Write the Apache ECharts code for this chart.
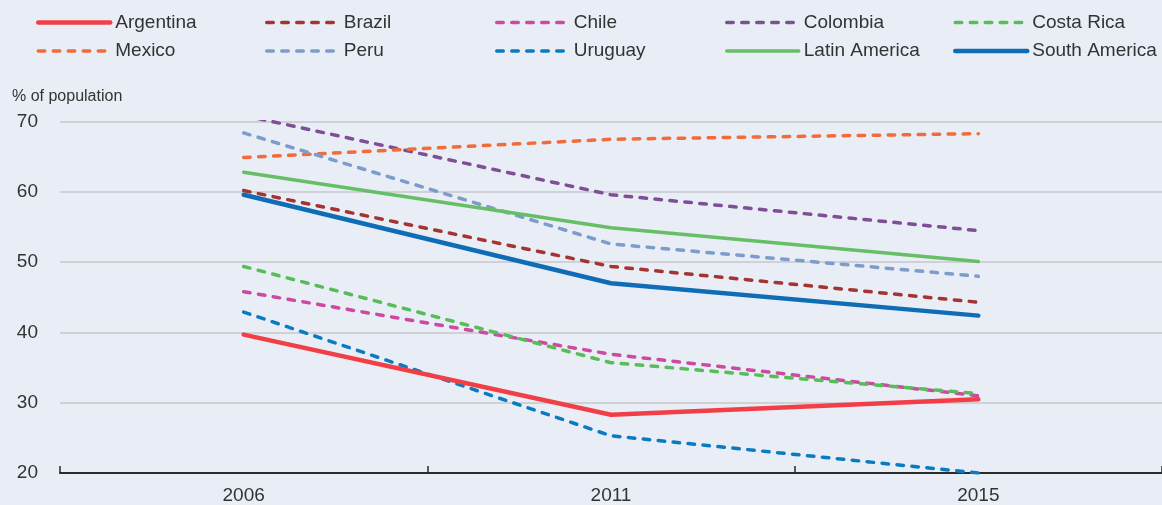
<!DOCTYPE html>
<html>
<head>
<meta charset="utf-8">
<script src="https://cdn.jsdelivr.net/npm/echarts@6/dist/echarts.min.js"></script>
<style>
  html, body { margin: 0; padding: 0; background: #e9edf6; }
  #chart { width: 1162px; height: 505px; }
</style>
</head>
<body>
<div id="chart"></div>
<script>
// Share of population (%), by country and region
const years = ['2006', '2011', '2015'];
const yTicks = [20, 30, 40, 50, 60, 70];

const argentina    = [39.7, 28.3, 30.5];
const brazil       = [60.2, 49.4, 44.3];
const chile        = [45.8, 36.9, 31.0];
const colombia     = [70.9, 59.6, 54.5];
const costaRica    = [49.4, 35.7, 31.3];
const mexico       = [64.9, 67.5, 68.3];
const peru         = [68.4, 52.6, 48.0];
const uruguay      = [42.9, 25.3, 20.0];
const latinAmerica = [62.8, 54.9, 50.1];
const southAmerica = [59.6, 47.0, 42.4];

const FONT = '"Liberation Sans", Arial, Helvetica, sans-serif';
const DASH = [6.5, 8.5];

// line look of every series, shared by the plot and the legend keys
const styles = {
  'Argentina':     { color: '#f23f47', width: 4.5, type: 'solid' },
  'Brazil':        { color: '#a33432', width: 3.5, type: DASH },
  'Chile':         { color: '#cc4aa0', width: 3.5, type: DASH },
  'Colombia':      { color: '#7f4f96', width: 3.5, type: DASH },
  'Costa Rica':    { color: '#58bd59', width: 3.5, type: DASH },
  'Mexico':        { color: '#f26b3a', width: 3.5, type: DASH },
  'Peru':          { color: '#7e9ccb', width: 3.5, type: DASH },
  'Uruguay':       { color: '#0b7bc1', width: 3.5, type: DASH },
  'Latin America': { color: '#66bf66', width: 3.5, type: 'solid' },
  'South America': { color: '#0f6db5', width: 4.5, type: 'solid' }
};

function lineSeries(name, data, z) {
  const s = styles[name];
  return {
    name, type: 'line', data, z,
    symbol: 'none', showSymbol: false, smooth: false,
    lineStyle: { color: s.color, width: s.width, type: s.type, cap: 'round', join: 'round' },
    itemStyle: { color: s.color }
  };
}

const legendCols = [
  ['Argentina', 'Mexico'],
  ['Brazil', 'Peru'],
  ['Chile', 'Uruguay'],
  ['Colombia', 'Latin America'],
  ['Costa Rica', 'South America']
];
const legendLeft = [36, 265, 495, 725, 953];

const legends = legendCols.map((names, i) => ({
  orient: 'vertical',
  left: legendLeft[i],
  top: 13,
  padding: 0,
  itemWidth: 72,
  itemHeight: 19,
  itemGap: 9.5,
  selectedMode: false,
  data: names.map(n => ({
    name: n,
    itemStyle: { opacity: 0, borderWidth: 0 },
    lineStyle: {
      color: styles[n].color, width: styles[n].width,
      type: styles[n].type, cap: 'round', opacity: 1
    }
  })),
  textStyle: { fontFamily: FONT, fontSize: 19, color: '#333' }
}));

const chart = echarts.init(document.getElementById('chart'), null, { renderer: 'canvas' });

chart.setOption({
  backgroundColor: '#e9edf6',
  animation: false,
  title: {
    text: '% of population',
    left: 12, top: 89, padding: 0,
    textStyle: { fontFamily: FONT, fontSize: 16, fontWeight: 'normal', color: '#333' }
  },
  legend: legends,
  grid: { left: 60, top: 121.7, width: 1108.5, bottom: 31.3, containLabel: false },
  xAxis: {
    type: 'category',
    data: years,
    boundaryGap: true,
    axisLine: { show: true, lineStyle: { color: '#2b2b2b', width: 2 } },
    axisTick: { show: true, inside: true, length: 7, lineStyle: { color: '#2b2b2b', width: 1.5 } },
    axisLabel: { margin: 13, fontFamily: FONT, fontSize: 19, color: '#333' },
    splitLine: { show: false }
  },
  yAxis: {
    type: 'value',
    min: yTicks[0],
    max: yTicks[yTicks.length - 1],
    interval: 10,
    axisLine: { show: false },
    axisTick: { show: false },
    axisLabel: { margin: 22, fontFamily: FONT, fontSize: 19, color: '#333' },
    splitLine: { show: true, lineStyle: { color: '#cfd1d7', width: 2 } }
  },
  series: [
    lineSeries('Brazil', brazil, 3),
    lineSeries('Chile', chile, 3),
    lineSeries('Colombia', colombia, 3),
    lineSeries('Costa Rica', costaRica, 3),
    lineSeries('Mexico', mexico, 3),
    lineSeries('Peru', peru, 3),
    lineSeries('Uruguay', uruguay, 3),
    lineSeries('Latin America', latinAmerica, 4),
    lineSeries('South America', southAmerica, 4),
    lineSeries('Argentina', argentina, 5)
  ]
});
</script>
</body>
</html>
